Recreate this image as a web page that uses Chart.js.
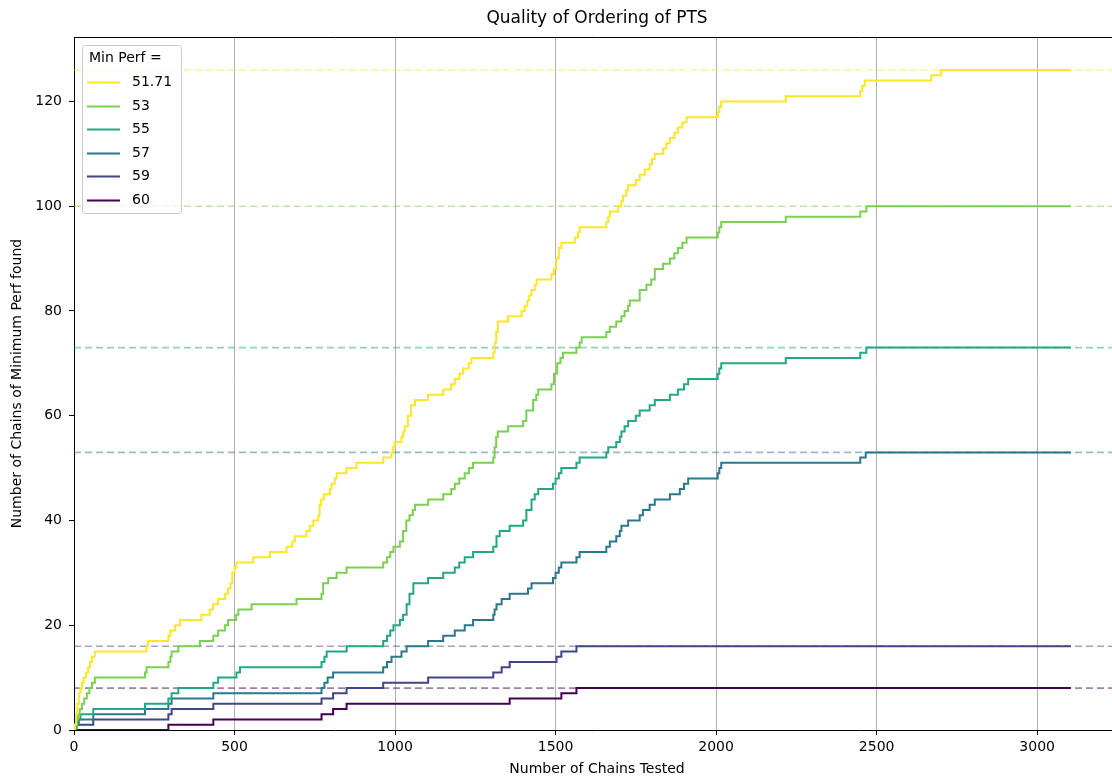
<!DOCTYPE html>
<html>
<head>
<meta charset="utf-8">
<script src="https://cdn.jsdelivr.net/npm/chart.js@4/dist/chart.umd.min.js"></script>
<style>
html,body{margin:0;padding:0;overflow:hidden;background:#fff;}
canvas{display:block;}
</style>
</head>
<body>
<canvas id="c" width="1125" height="779"></canvas>
<script>
// ---- data ----
const chartTitle = 'Quality of Ordering of PTS';
const xTitle = 'Number of Chains Tested';
const yTitle = 'Number of Chains of Minimum Perf found';
const legendTitle = 'Min Perf =';
const seriesLabels = ['51.71', '53', '55', '57', '59', '60'];
const seriesColors = ['#fde725', '#7ad151', '#22a884', '#2a788e', '#414487', '#440154'];
const refColors = ['rgba(253,231,37,0.5)', 'rgba(122,209,81,0.5)', 'rgba(34,168,132,0.5)', 'rgba(42,120,142,0.5)', 'rgba(65,68,135,0.5)', 'rgba(68,1,84,0.5)'];
const finalCounts = [126, 100, 73, 53, 16, 8];
const xLimits = [0, 3258];
const yLimits = [0, 132.3];
const xTicks = [0, 500, 1000, 1500, 2000, 2500, 3000];
const yTicks = [0, 20, 40, 60, 80, 100, 120];

// [chains tested, count found] at each step
const perf5171 = [[0,0],[3,1],[6,3],[10,5],[15,7],[20,8],[25,9],[30,10],[38,11],[44,12],[50,13],[56,14],[65,15],[226,16],[230,17],[294,18],[300,19],[315,20],[330,21],[397,22],[423,23],[433,24],[449,25],[470,26],[480,27],[487,28],[493,30],[500,31],[506,32],[558,33],[610,34],[662,35],[680,36],[688,37],[724,38],[735,39],[745,40],[761,41],[765,43],[770,44],[778,45],[797,46],[802,47],[812,48],[818,49],[849,50],[880,51],[963,52],[989,53],[994,54],[999,55],[1020,56],[1025,57],[1030,58],[1040,60],[1050,62],[1062,63],[1103,64],[1150,65],[1175,66],[1186,67],[1200,68],[1212,69],[1230,70],[1238,71],[1306,72],[1310,74],[1315,76],[1320,78],[1352,79],[1394,80],[1404,81],[1412,82],[1418,83],[1425,84],[1435,85],[1441,86],[1487,87],[1495,88],[1502,90],[1510,92],[1518,93],[1560,94],[1570,95],[1575,96],[1658,97],[1664,98],[1669,99],[1695,100],[1705,101],[1710,102],[1720,103],[1726,104],[1750,105],[1762,106],[1778,107],[1793,108],[1800,109],[1809,110],[1835,111],[1845,112],[1856,113],[1870,114],[1881,115],[1895,116],[1908,117],[2005,118],[2010,119],[2016,120],[2217,121],[2449,122],[2455,123],[2463,124],[2670,125],[2701,126],[3105,126]];
const perf53 = [[0,0],[4,1],[8,2],[12,3],[18,4],[25,5],[32,6],[40,7],[48,8],[56,9],[65,10],[221,11],[226,12],[294,13],[300,14],[304,15],[325,16],[392,17],[434,18],[449,19],[470,20],[480,21],[505,22],[512,23],[553,24],[693,25],[771,26],[776,28],[792,29],[818,30],[849,31],[963,32],[975,33],[985,34],[995,35],[1015,36],[1025,38],[1035,40],[1045,41],[1055,42],[1062,43],[1103,44],[1150,45],[1175,46],[1186,47],[1200,48],[1217,49],[1230,50],[1243,51],[1306,52],[1310,54],[1315,56],[1320,57],[1352,58],[1399,59],[1409,61],[1430,63],[1440,64],[1446,65],[1487,66],[1495,68],[1505,70],[1515,71],[1523,72],[1565,73],[1575,74],[1581,75],[1658,76],[1669,77],[1689,78],[1705,79],[1715,80],[1726,81],[1731,82],[1762,84],[1783,85],[1798,86],[1809,88],[1835,89],[1856,90],[1870,91],[1881,92],[1895,93],[1908,94],[2005,95],[2010,96],[2016,97],[2217,98],[2449,99],[2468,100],[3105,100]];
const perf55 = [[0,0],[5,1],[12,2],[20,3],[60,4],[221,5],[294,6],[304,7],[325,8],[434,9],[449,10],[506,11],[517,12],[771,13],[780,14],[787,15],[849,16],[963,17],[975,18],[985,19],[995,20],[1015,21],[1025,22],[1036,24],[1045,26],[1057,28],[1103,29],[1150,30],[1186,31],[1200,32],[1217,33],[1243,34],[1306,35],[1316,37],[1326,38],[1357,39],[1399,40],[1409,42],[1425,44],[1435,45],[1446,46],[1492,47],[1500,48],[1510,49],[1518,50],[1565,51],[1575,52],[1658,53],[1664,54],[1689,55],[1700,56],[1705,57],[1715,58],[1726,59],[1750,60],[1762,61],[1793,62],[1809,63],[1856,64],[1881,65],[1900,66],[1913,67],[2005,68],[2010,69],[2016,70],[2217,71],[2449,72],[2468,73],[3105,73]];
const perf57 = [[0,0],[8,1],[15,2],[60,3],[221,4],[294,5],[304,6],[434,7],[771,8],[780,9],[790,10],[807,11],[963,12],[975,13],[989,14],[1020,15],[1036,16],[1103,17],[1150,18],[1186,19],[1217,20],[1243,21],[1306,22],[1310,23],[1316,24],[1332,25],[1357,26],[1414,27],[1425,28],[1492,29],[1500,30],[1510,31],[1518,32],[1565,33],[1575,34],[1658,35],[1669,36],[1689,37],[1700,38],[1705,39],[1726,40],[1762,41],[1772,42],[1793,43],[1809,44],[1856,45],[1887,46],[1900,47],[1913,48],[2005,49],[2010,50],[2016,51],[2449,52],[2466,53],[3105,53]];
const perf59 = [[0,0],[5,1],[60,2],[294,3],[304,4],[434,5],[771,6],[807,7],[849,8],[963,9],[1103,10],[1306,11],[1332,12],[1357,13],[1503,14],[1518,15],[1565,16],[3105,16]];
const perf60 = [[0,0],[294,1],[434,2],[771,3],[807,4],[849,5],[1357,6],[1518,7],[1565,8],[3105,8]];
const allSeries = [perf5171, perf53, perf55, perf57, perf59, perf60];

// ---- chart ----
Chart.defaults.font.family = '"DejaVu Sans", sans-serif';
Chart.defaults.color = '#000';

const toPts = arr => arr.map(p => ({x: p[0], y: p[1]}));

const datasets = [];
allSeries.forEach((s, i) => {
  datasets.push({
    label: seriesLabels[i],
    data: toPts(s),
    borderColor: seriesColors[i],
    backgroundColor: seriesColors[i],
    borderWidth: 2,
    pointRadius: 0,
    stepped: true,
    fill: false,
    order: i
  });
});
finalCounts.forEach((v, i) => {
  datasets.push({
    label: 'ref ' + seriesLabels[i],
    isRef: true,
    data: [{x: xLimits[0], y: v}, {x: xLimits[1], y: v}],
    borderColor: refColors[i],
    borderWidth: 1.6,
    borderDash: [7, 4],
    pointRadius: 0,
    fill: false,
    order: 20 + i
  });
});

function roundRectPath(ctx, x, y, w, h, r) {
  ctx.beginPath();
  ctx.moveTo(x + r, y);
  ctx.lineTo(x + w - r, y);
  ctx.arcTo(x + w, y, x + w, y + r, r);
  ctx.lineTo(x + w, y + h - r);
  ctx.arcTo(x + w, y + h, x + w - r, y + h, r);
  ctx.lineTo(x + r, y + h);
  ctx.arcTo(x, y + h, x, y + h - r, r);
  ctx.lineTo(x, y + r);
  ctx.arcTo(x, y, x + r, y, r);
  ctx.closePath();
}

const mplLegend = {
  id: 'mplLegend',
  afterDatasetsDraw(chart) {
    const ctx = chart.ctx;
    const a = chart.chartArea;
    const items = chart.data.datasets.filter(d => !d.isRef);
    ctx.save();
    roundRectPath(ctx, a.left + 8.5, a.top + 8.5, 99, 168, 3);
    ctx.fillStyle = 'rgba(255,255,255,0.8)';
    ctx.fill();
    ctx.strokeStyle = '#cccccc';
    ctx.lineWidth = 1;
    ctx.stroke();
    ctx.font = '14px "DejaVu Sans"';
    ctx.textBaseline = 'middle';
    ctx.textAlign = 'left';
    ctx.fillStyle = '#000';
    ctx.fillText(legendTitle, a.left + 15, a.top + 21);
    items.forEach((d, i) => {
      const y = Math.round(a.top + 45 + i * 23.5) + 0.5;
      ctx.strokeStyle = d.borderColor;
      ctx.lineWidth = d.borderWidth;
      ctx.beginPath();
      ctx.moveTo(a.left + 13, y);
      ctx.lineTo(a.left + 46, y);
      ctx.stroke();
      ctx.fillStyle = '#000';
      ctx.fillText(d.label, a.left + 58, y);
    });
    ctx.restore();
  }
};

new Chart(document.getElementById('c'), {
  type: 'line',
  data: {datasets},
  options: {
    responsive: false,
    animation: false,
    devicePixelRatio: 1,
    layout: {padding: {left: 0, right: 5, top: 0, bottom: 0}},
    plugins: {
      legend: {display: false},
      title: {display: false},
      tooltip: {enabled: false}
    },
    scales: {
      x: {
        type: 'linear',
        position: 'bottom',
        min: xLimits[0],
        max: xLimits[1],
        grid: {display: true, drawOnChartArea: true, color: '#b0b0b0', lineWidth: 1, tickColor: '#000', tickLength: 5},
        border: {display: true, color: '#000', width: 1},
        afterBuildTicks(s) { s.ticks = xTicks.map(v => ({value: v})); },
        ticks: {autoSkip: false, maxRotation: 0, padding: 4, color: '#000', font: {size: 14}, callback: v => String(v)},
        title: {display: true, text: xTitle, color: '#000', font: {size: 14}, padding: {top: 0, bottom: 1}},
        afterFit(s) { s.height = 49; }
      },
      x2: {
        type: 'linear',
        position: 'top',
        min: xLimits[0],
        max: xLimits[1],
        grid: {display: false},
        border: {display: true, color: '#000', width: 1},
        ticks: {display: false},
        title: {display: true, text: chartTitle, color: '#000', font: {size: 17}, padding: {top: 8, bottom: 0}},
        afterFit(s) { s.height = 37; }
      },
      y: {
        type: 'linear',
        position: 'left',
        min: yLimits[0],
        max: yLimits[1],
        grid: {display: true, drawOnChartArea: false, color: '#000', tickColor: '#000', tickLength: 5},
        border: {display: true, color: '#000', width: 1},
        afterBuildTicks(s) { s.ticks = yTicks.map(v => ({value: v})); },
        ticks: {padding: 7, color: '#000', font: {size: 14}, callback: v => String(v)},
        title: {display: true, text: yTitle, color: '#000', font: {size: 14}, padding: {top: 8.5, bottom: 0}},
        afterFit(s) { s.width = 74; }
      }
    }
  },
  plugins: [mplLegend]
});
</script>
</body>
</html>
